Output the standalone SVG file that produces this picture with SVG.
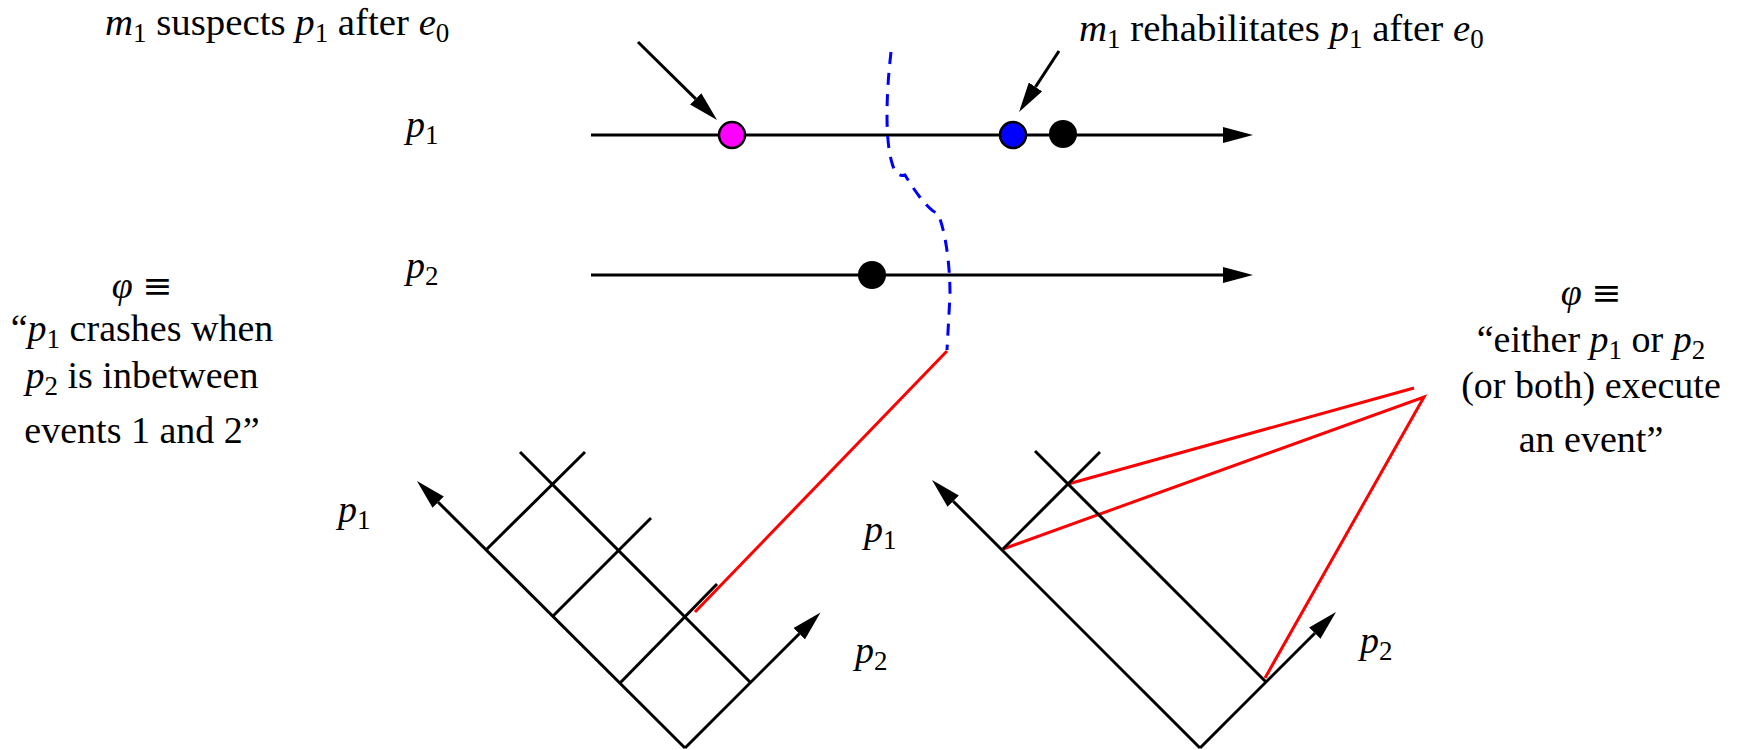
<svg xmlns="http://www.w3.org/2000/svg" width="1737" height="750" viewBox="0 0 1737 750">
<style>
.t{font-family:"Liberation Serif","Times New Roman",serif;font-size:38px;fill:#000}
.big{font-size:38.8px}
.m{font-style:italic}
.s{font-size:27px;font-style:normal}
.eq{font-family:"DejaVu Serif",serif;font-size:36px}
.ln{stroke:#000;stroke-width:3;fill:none}
.ar{stroke:#000;stroke-width:3;fill:none;marker-end:url(#ah)}
.red{stroke:#ff0000;stroke-width:3;fill:none}
.blue{stroke:#0000ff;stroke-width:3;fill:none;stroke-dasharray:12 9}
</style>
<defs>
<marker id="ah" viewBox="0 0 30 16" refX="0" refY="8" markerWidth="30" markerHeight="16" markerUnits="userSpaceOnUse" orient="auto">
<path d="M0,0 L30,8 L0,16 z" fill="#000"/>
</marker>
</defs>
<rect width="1737" height="750" fill="#fff"/>

<g id="connectors">
<path class="ar" d="M591,135 L1223,135"/>
<path class="ar" d="M591,275 L1223,275"/>
<path class="ar" d="M638,42 L695.7,98.9"/>
<path class="ar" d="M1059,51 L1035.5,86.9"/>
<path class="blue" d="M891,52 C886,95 885,140 892,163 Q896,178 905,175 C914,190 924,204 933,211 Q939,214 940,219 C947,240 950,270 950,295 L947,350"/>
<path class="red" d="M947,351 L695,612"/>
<path class="red" d="M1068,484 L1414,388"/>
<path class="red" d="M1003,549 L1424,397 L1265,678"/>
</g>

<g id="diagram-left">
<path class="ar" d="M685,748 L438.2,502.2"/>
<path class="ar" d="M685,748 L799.3,633.7"/>
<path class="ln" d="M751,683 L520,452"/>
<path class="ln" d="M487,549 L585,452"/>
<path class="ln" d="M553,616 L651,518"/>
<path class="ln" d="M620,683 L717,584"/>
</g>

<g id="diagram-right">
<path class="ar" d="M1200,748 L953.2,501.2"/>
<path class="ar" d="M1200,748 L1314.8,633.2"/>
<path class="ln" d="M1266,682 L1035,451"/>
<path class="ln" d="M1003,549 L1100,452"/>
</g>

<g id="node-suspect"><circle cx="732" cy="135" r="13" fill="#ff00ff" stroke="#000" stroke-width="2.5"/></g>
<g id="node-rehab"><circle cx="1013" cy="135" r="13" fill="#0000ff" stroke="#000" stroke-width="2.5"/></g>
<g id="node-p1-event"><circle cx="1063" cy="134" r="14" fill="#000"/></g>
<g id="node-p2-event"><circle cx="872" cy="275" r="14" fill="#000"/></g>

<g id="label-suspects">
<text class="t big" x="105" y="35"><tspan class="m">m</tspan><tspan class="s" dy="7">1</tspan><tspan dy="-7"> suspects </tspan><tspan class="m">p</tspan><tspan class="s" dy="7">1</tspan><tspan dy="-7"> after </tspan><tspan class="m">e</tspan><tspan class="s" dy="7">0</tspan></text>
</g>
<g id="label-rehab">
<text class="t big" x="1079" y="41"><tspan class="m">m</tspan><tspan class="s" dy="7">1</tspan><tspan dy="-7"> rehabilitates </tspan><tspan class="m">p</tspan><tspan class="s" dy="7">1</tspan><tspan dy="-7"> after </tspan><tspan class="m">e</tspan><tspan class="s" dy="7">0</tspan></text>
</g>

<g id="label-p1-top"><text class="t" x="406" y="137"><tspan class="m">p</tspan><tspan class="s" dy="7">1</tspan></text></g>
<g id="label-p2-top"><text class="t" x="406" y="278"><tspan class="m">p</tspan><tspan class="s" dy="7">2</tspan></text></g>
<g id="label-p1-left"><text class="t" x="338" y="522"><tspan class="m">p</tspan><tspan class="s" dy="7">1</tspan></text></g>
<g id="label-p2-left"><text class="t" x="855" y="663"><tspan class="m">p</tspan><tspan class="s" dy="7">2</tspan></text></g>
<g id="label-p1-right"><text class="t" x="864" y="542"><tspan class="m">p</tspan><tspan class="s" dy="7">1</tspan></text></g>
<g id="label-p2-right"><text class="t" x="1360" y="653"><tspan class="m">p</tspan><tspan class="s" dy="7">2</tspan></text></g>

<g id="formula-left" text-anchor="middle">
<text class="t" x="142" y="298"><tspan class="m">φ</tspan> <tspan class="eq">≡</tspan></text>
<text class="t" x="142" y="341">“<tspan class="m">p</tspan><tspan class="s" dy="7">1</tspan><tspan dy="-7"> crashes when</tspan></text>
<text class="t" x="142" y="388"><tspan class="m">p</tspan><tspan class="s" dy="7">2</tspan><tspan dy="-7"> is inbetween</tspan></text>
<text class="t" x="142" y="443">events 1 and 2”</text>
</g>

<g id="formula-right" text-anchor="middle">
<text class="t" x="1591" y="305"><tspan class="m">φ</tspan> <tspan class="eq">≡</tspan></text>
<text class="t" x="1591" y="352">“either <tspan class="m">p</tspan><tspan class="s" dy="7">1</tspan><tspan dy="-7"> or </tspan><tspan class="m">p</tspan><tspan class="s" dy="7">2</tspan></text>
<text class="t" x="1591" y="398">(or both) execute</text>
<text class="t" x="1591" y="452">an event”</text>
</g>
</svg>
